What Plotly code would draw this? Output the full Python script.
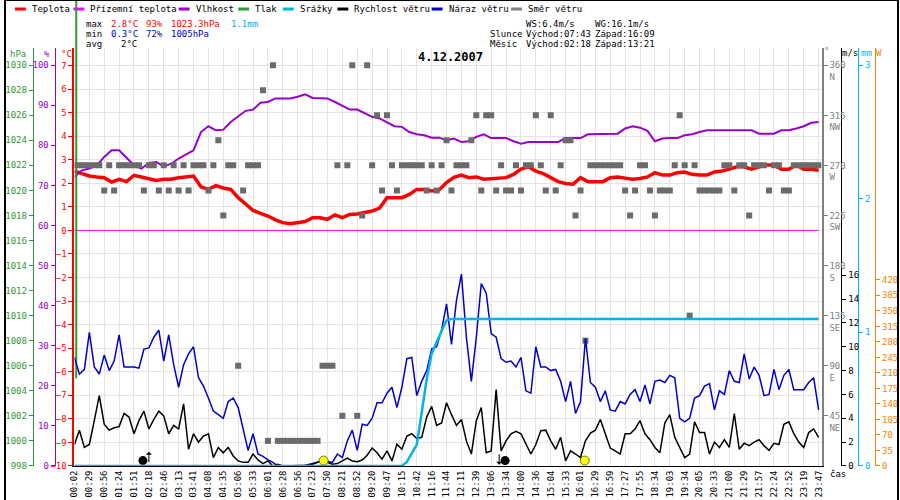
import numpy as np
import plotly.graph_objects as go

W, H = 900, 500
FIG_H = 506  # the page is photographed slightly taller than 500 and squeezed back
FONT = "DejaVu Sans Mono"

# time labels on the (index based) x axis
time_labels = ["00:02", "00:29", "00:56", "01:24", "01:51", "02:18", "02:46", "03:13", "03:41", "04:08",
               "04:35", "05:06", "05:33", "06:01", "06:28", "06:56", "07:23", "07:50", "08:21", "08:52",
               "09:20", "09:47", "10:15", "10:42", "11:16", "11:44", "12:11", "12:39", "13:06", "13:34",
               "14:00", "14:36", "15:04", "15:33", "16:01", "16:29", "16:59", "17:27", "17:55", "18:34",
               "19:03", "19:34", "20:05", "20:33", "21:00", "21:29", "21:57", "22:24", "22:52", "23:19",
               "23:47"]

# temperature (°C), half-label steps
temperature_c = [2.52, 2.4, 2.31, 2.27, 2.24, 2.05, 2.17, 2.07, 2.34, 2.27,
                 2.2, 2.12, 2.17, 2.17, 2.24, 2.28, 2.31, 1.85, 1.74, 1.9,
                 1.8, 1.74, 1.39, 1.12, 0.85, 0.72, 0.61, 0.45, 0.33, 0.28,
                 0.33, 0.38, 0.54, 0.54, 0.47, 0.66, 0.54, 0.68, 0.7, 0.75,
                 0.82, 0.95, 1.39, 1.39, 1.39, 1.53, 1.74, 1.74, 1.67, 1.72,
                 2.03, 2.25, 2.35, 2.24, 2.27, 2.17, 2.2, 2.2, 2.24, 2.38,
                 2.6, 2.7, 2.52, 2.41, 2.24, 2.07, 1.99, 1.96, 2.24, 2.07,
                 2.07, 2.07, 2.24, 2.27, 2.22, 2.17, 2.2, 2.27, 2.45, 2.35,
                 2.35, 2.45, 2.48, 2.38, 2.35, 2.35, 2.48, 2.52, 2.6, 2.7,
                 2.7, 2.6, 2.7, 2.78, 2.78, 2.6, 2.6, 2.78, 2.6, 2.6,
                 2.55]

# relative humidity (%), half-label steps
humidity_pct = [72.1, 73.75, 74.2, 75, 77.1, 78.75, 78.75, 77, 75, 74.2,
                75.6, 75.8, 74.75, 75.4, 76.7, 77.75, 78.75, 83.3, 84.75, 83.75,
                83.9, 85.8, 87.1, 88.6, 88.9, 90.6, 90.8, 91.7, 91.7, 91.7,
                92.1, 92.7, 91.8, 91.7, 91.7, 90.8, 89.8, 88.9, 88.9, 87.9,
                87.1, 86.7, 85.8, 84.75, 84.6, 83.3, 82.75, 82.5, 81.9, 81.9,
                81.25, 81.7, 80.8, 81, 82.1, 82.75, 81.8, 81.8, 81.8, 81,
                80.4, 80.8, 80.8, 80.8, 80.8, 80.8, 81.8, 81.8, 81.8, 82.75,
                82.75, 82.75, 82.75, 82.9, 84.2, 84.75, 84.4, 83.6, 81.0, 81.7,
                81.8, 81.8, 82.5, 82.75, 83.3, 83.75, 83.75, 83.75, 83.75, 83.75,
                83.75, 83.75, 82.9, 82.9, 82.9, 83.75, 83.75, 84.2, 84.75, 85.6,
                85.8]

# wind direction (degrees), third-label steps
wind_dir_deg = [270, 270, 270, 270, 270, 270, 247.5, 270, 247.5, 270,
                270, 270, 270, 270, 247.5, 270, 270, 247.5, 270, 247.5,
                270, 247.5, 270, 247.5, 270, 270, 270, 247.5, 270, 292.5,
                225, 270, 270, 90, 247.5, 270, 270, 270, 337.5, 22.5,
                360, 22.5, 22.5, 22.5, 22.5, 22.5, 22.5, 22.5, 22.5, 22.5,
                90, 90, 90, 270, 45, 270, 360, 45, 225, 360,
                270, 315, 247.5, 315, 270, 247.5, 270, 270, 270, 270,
                270, 247.5, 270, 247.5, 270, 292.5, 247.5, 270, 270, 270,
                292.5, 315, 247.5, 315, 315, 247.5, 270, 247.5, 247.5, 270,
                247.5, 270, 270, 315, 270, 247.5, 315, 247.5, 270, 292.5,
                292.5, 225, 247.5, 112.5, 270, 270, 270, 270, 270, 270,
                270, 247.5, 225, 247.5, 270, 270, 247.5, 225, 247.5, 247.5,
                247.5, 270, 315, 270, 135, 270, 247.5, 247.5, 247.5, 247.5,
                247.5, 270, 270, 247.5, 270, 270, 225, 270, 270, 270,
                247.5, 270, 270, 247.5, 247.5, 270, 270, 270, 270, 270,
                270]

# wind gust (m/s), third-label steps
wind_gust_ms = [9.1, 7.7, 8.1, 11.2, 8.3, 7.7, 9.3, 8.0, 8.8, 11.0,
                8.3, 8.3, 8.3, 8.2, 9.8, 9.9, 10.8, 11.4, 8.8, 11.0,
                8.5, 6.6, 8.5, 9.4, 10.0, 7.4, 6.7, 5.7, 4.6, 4.3,
                4.0, 5.4, 5.7, 4.9, 3.2, 1.3, 2.7, 1.0, 0.8, 0.5,
                0.3, 0.0, 0.0, 0.0, 0.0, 0.0, 0.0, 0.1, 0.2, 0.3,
                0.3, 0.4, 0.3, 1.0, 0.7, 2.1, 3.0, 1.3, 3.5, 3.4,
                4.0, 5.3, 5.3, 6.1, 6.6, 4.9, 6.6, 9.0, 9.1, 5.9,
                7.1, 8.0, 9.8, 10.0, 11.4, 13.6, 10.2, 13.9, 16.1, 10.8,
                7.1, 10.8, 15.3, 14.5, 11.1, 10.8, 9.0, 8.7, 8.8, 8.3,
                9.1, 6.3, 6.1, 10.0, 8.3, 8.3, 8.0, 8.1, 7.1, 5.4,
                7.1, 4.4, 5.4, 10.7, 7.0, 6.6, 5.4, 6.3, 4.7, 4.6,
                5.4, 5.2, 6.0, 6.4, 5.4, 6.8, 5.2, 7.1, 7.2, 7.0,
                7.6, 7.4, 4.0, 3.7, 4.0, 5.7, 5.9, 6.7, 6.9, 4.7,
                6.3, 6.0, 8.0, 7.1, 7.0, 9.4, 7.3, 8.3, 7.6, 5.9,
                6.0, 8.1, 6.4, 7.6, 8.1, 6.4, 6.4, 6.4, 7.0, 7.4,
                4.7]

# wind speed (m/s), third-label steps
wind_speed_ms = [1.8, 3.0, 1.55, 1.8, 3.8, 5.9, 3.5, 3.0, 3.2, 3.3,
                 4.4, 4.1, 2.7, 3.8, 4.6, 3.1, 3.9, 4.6, 4.2, 2.7,
                 3.4, 3.1, 5.2, 1.4, 2.7, 2.0, 2.5, 2.7, 0.7, 1.55,
                 1.1, 1.55, 0.84, 0.42, 0.3, 0.3, 1.0, 0.5, 0.2, 0.42,
                 0.0, 0.14, 0.0, 0.0, 0.0, 0.0, 0.0, 0.05, 0.14, 0.3,
                 0.48, 0.3, 0.14, 0.2, 0.42, 0.65, 0.42, 0.36, 0.5, 0.9,
                 1.5, 1.1, 0.56, 1.26, 0.42, 1.83, 1.4, 2.5, 2.7, 2.3,
                 2.4, 4.1, 5.0, 3.4, 3.6, 5.3, 4.3, 3.4, 3.9, 2.1,
                 1.0, 3.8, 4.9, 1.1, 1.26, 6.4, 1.26, 2.1, 2.7, 2.9,
                 2.7, 1.8, 1.0, 1.8, 2.95, 3.0, 2.1, 1.4, 2.4, 0.42,
                 1.26, 1.0, 0.7, 2.1, 2.75, 3.0, 3.9, 2.7, 1.5, 1.26,
                 1.0, 2.7, 2.7, 3.1, 3.8, 2.7, 2.2, 1.55, 1.1, 3.6,
                 4.3, 2.4, 1.55, 0.7, 1.0, 3.7, 2.8, 2.8, 1.0, 2.0,
                 1.55, 2.2, 1.55, 4.4, 1.4, 1.9, 1.7, 2.0, 2.2, 1.7,
                 1.3, 1.9, 1.8, 3.5, 3.7, 2.7, 2.0, 1.55, 2.8, 3.1,
                 2.4]

# cumulative rain (mm), third-label steps
rain_mm = [0.0, 0.0, 0.0, 0.0, 0.0, 0.0, 0.0, 0.0, 0.0, 0.0,
           0.0, 0.0, 0.0, 0.0, 0.0, 0.0, 0.0, 0.0, 0.0, 0.0,
           0.0, 0.0, 0.0, 0.0, 0.0, 0.0, 0.0, 0.0, 0.0, 0.0,
           0.0, 0.0, 0.0, 0.0, 0.0, 0.0, 0.0, 0.0, 0.0, 0.0,
           0.0, 0.0, 0.0, 0.0, 0.0, 0.0, 0.0, 0.0, 0.0, 0.0,
           0.0, 0.0, 0.0, 0.0, 0.0, 0.0, 0.0, 0.0, 0.0, 0.0,
           0.0, 0.0, 0.0, 0.0, 0.0, 0.0, 0.0, 0.03, 0.1, 0.16,
           0.4, 0.65, 0.84, 0.93, 1.01, 1.09, 1.1, 1.1, 1.1, 1.1,
           1.1, 1.1, 1.1, 1.1, 1.1, 1.1, 1.1, 1.1, 1.1, 1.1,
           1.1, 1.1, 1.1, 1.1, 1.1, 1.1, 1.1, 1.1, 1.1, 1.1,
           1.1, 1.1, 1.1, 1.1, 1.1, 1.1, 1.1, 1.1, 1.1, 1.1,
           1.1, 1.1, 1.1, 1.1, 1.1, 1.1, 1.1, 1.1, 1.1, 1.1,
           1.1, 1.1, 1.1, 1.1, 1.1, 1.1, 1.1, 1.1, 1.1, 1.1,
           1.1, 1.1, 1.1, 1.1, 1.1, 1.1, 1.1, 1.1, 1.1, 1.1,
           1.1, 1.1, 1.1, 1.1, 1.1, 1.1, 1.1, 1.1, 1.1, 1.1,
           1.1]

ground_temp_c = [0.0, 0.0]
pressure_x = [0.12, 0.12]
pressure_hpa = [1005.0, 1040.0]

sun_times = ["07:43", "16:09"]
moon_rise, moon_set = "02:18", "13:21"

stats_max = ["2.8°C", "93%", "1023.3hPa"]
stats_min = ["0.3°C", "72%", "1005hPa"]

RED, MAGENTA, PURPLE, GREEN = "#ff0000", "#ff00ff", "#9900cc", "#339933"
CYAN, BLUE, GRAY, ORANGE = "#00b4f0", "#0000cc", "#6b6b6b", "#ff8000"
GRID = "#e8e3e3"


def to_minutes(t):
    h, m = t.split(":")
    return int(h) * 60 + int(m)


label_minutes = [to_minutes(t) for t in time_labels]


def time_to_x(t):
    return float(np.interp(to_minutes(t), label_minutes, np.arange(len(time_labels))))


n_last = len(time_labels) - 1
x_half = np.linspace(0, n_last, len(temperature_c))
x_third = np.linspace(0, n_last, len(wind_gust_ms))

fig = go.Figure()

fig.add_trace(go.Scatter(x=x_third, y=wind_dir_deg, yaxis="y4", mode="markers", name="Směr větru",
                         marker=dict(symbol="square", size=6, color=GRAY)))
fig.add_trace(go.Scatter(x=[0, n_last], y=ground_temp_c, mode="lines", name="Přízemní teplota",
                         line=dict(color=MAGENTA, width=1)))
fig.add_trace(go.Scatter(x=pressure_x, y=pressure_hpa, yaxis="y3", mode="lines", name="Tlak",
                         line=dict(color=GREEN, width=2)))
fig.add_trace(go.Scatter(x=x_half, y=humidity_pct, yaxis="y2", mode="lines", name="Vlhkost",
                         line=dict(color=PURPLE, width=2)))
fig.add_trace(go.Scatter(x=x_third, y=rain_mm, yaxis="y6", mode="lines", name="Srážky",
                         line=dict(color=CYAN, width=2.5)))
fig.add_trace(go.Scatter(x=x_third, y=wind_gust_ms, yaxis="y5", mode="lines", name="Náraz větru",
                         line=dict(color=BLUE, width=1.5)))
fig.add_trace(go.Scatter(x=x_third, y=wind_speed_ms, yaxis="y5", mode="lines", name="Rychlost větru",
                         line=dict(color="black", width=1.5)))
fig.add_trace(go.Scatter(x=x_half, y=temperature_c, mode="lines", name="Teplota",
                         line=dict(color=RED, width=3.5)))
# radiation axis has no data on this day
fig.add_trace(go.Scatter(x=[None], y=[None], yaxis="y7", mode="lines", showlegend=False))

# sun and moon events at the bottom
fig.add_trace(go.Scatter(x=[time_to_x(t) for t in sun_times], y=[0.45, 0.45], yaxis="y5",
                         mode="markers", cliponaxis=False, name="Slunce",
                         marker=dict(size=9, color="#ffff00", line=dict(color="#777700", width=1))))
fig.add_trace(go.Scatter(x=[time_to_x(moon_rise) - 0.4, time_to_x(moon_set) + 0.4], y=[0.45, 0.45],
                         yaxis="y5", mode="markers", cliponaxis=False, name="Měsíc",
                         marker=dict(size=9, color="black")))


def axis_common(color):
    return dict(showgrid=False, zeroline=False, showline=True, linecolor=color,
                linewidth=1, ticks="outside", ticklen=4, tickcolor=color,
                tickfont=dict(family=FONT, size=9, color=color), fixedrange=True)


dom_y = [35 / H, 452 / H]

fig.update_layout(
    width=W, height=FIG_H,
    margin=dict(l=0, r=0, t=0, b=0),
    paper_bgcolor="white", plot_bgcolor="white",
    showlegend=False,
    font=dict(family=FONT, size=9, color="black"),
    xaxis=dict(domain=[70 / W, 823 / W], range=[0, 50.2], tickmode="array",
               tickvals=list(range(len(time_labels))), ticktext=time_labels, tickangle=-90,
               tickfont=dict(family=FONT, size=9, color="black"),
               showgrid=True, gridcolor=GRID, gridwidth=1, zeroline=False,
               showline=True, linecolor="black", linewidth=1, ticks=""),
    yaxis={**axis_common(RED), "domain": dom_y, "range": [-10, 7.74], "tickmode": "array",
           "tickvals": list(range(-10, 8)), "showgrid": True, "gridcolor": GRID, "linewidth": 2},
    yaxis2={**axis_common(PURPLE), "range": [0, 104.25], "tickmode": "array",
            "tickvals": list(range(0, 101, 10)), "overlaying": "y", "anchor": "free",
            "position": 50 / W, "side": "left"},
    yaxis3={**axis_common(GREEN), "range": [998, 1031.36], "tickmode": "array",
            "tickvals": list(range(998, 1031, 2)), "overlaying": "y", "anchor": "free",
            "position": 28 / W, "side": "left"},
    yaxis4={**axis_common("#808080"), "range": [0, 375.3], "tickmode": "array",
            "tickvals": [45, 90, 135, 180, 225, 270, 315, 360],
            "ticktext": ["45<br>NE", "90<br>E", "135<br>SE", "180<br>S", "225<br>SW",
                         "270<br>W", "315<br>NW", "360<br>N"],
            "ticklabelshift": 6, "overlaying": "y", "anchor": "x", "side": "right", "linewidth": 2},
    yaxis5={**axis_common("black"), "range": [0, 35.06], "tickmode": "array",
            "tickvals": list(range(0, 17, 2)), "overlaying": "y", "anchor": "free",
            "position": 843 / W, "side": "right"},
    yaxis6={**axis_common(CYAN), "range": [0, 3.1275], "tickmode": "array",
            "tickvals": [0, 1, 2, 3], "overlaying": "y", "anchor": "free",
            "position": 860 / W, "side": "right"},
    yaxis7={**axis_common(ORANGE), "range": [0, 943], "tickmode": "array",
            "tickvals": list(range(0, 421, 35)), "overlaying": "y", "anchor": "free",
            "position": 877 / W, "side": "right"},
)

annotations = []
shapes = []


def text_at(px, py, txt, color="black", size=9, anchor="left"):
    annotations.append(dict(x=px / W, y=1 - py / H, xref="paper", yref="paper", text=txt,
                            showarrow=False, xanchor=anchor, yanchor="middle",
                            font=dict(family=FONT, size=size, color=color)))


# legend row
legend_items = [("Teplota", RED, 25), ("Přízemní teplota", MAGENTA, 84), ("Vlhkost", PURPLE, 190),
                ("Tlak", GREEN, 250), ("Srážky", CYAN, 295), ("Rychlost větru", "black", 350),
                ("Náraz větru", BLUE, 445), ("Směr větru", "#808080", 525)]
for label, color, tx in legend_items:
    shapes.append(dict(type="line", xref="paper", yref="paper", x0=(tx - 15) / W, x1=(tx - 4) / W,
                       y0=1 - 9 / H, y1=1 - 9 / H, line=dict(color=color, width=3)))
    text_at(tx, 9, label)

# statistics block
text_at(80, 24, "max")
text_at(80, 34, "min")
text_at(80, 44, "avg")
for txt, px in zip(stats_max, [105, 140, 165]):
    text_at(px, 24, txt, RED)
for txt, px in zip(stats_min, [105, 140, 165]):
    text_at(px, 34, txt, BLUE)
text_at(226, 24, "1.1mm", CYAN)
text_at(115, 44, "2°C")

text_at(523, 24, "WS:6.4m/s")
text_at(593, 24, "WG:16.1m/s")
text_at(487, 34, "Slunce")
text_at(523, 34, "Východ:07:43")
text_at(593, 34, "Západ:16:09")
text_at(487, 44, "Měsíc")
text_at(523, 44, "Východ:02:18")
text_at(593, 44, "Západ:13:21")

# title
annotations.append(dict(x=449 / W, y=1 - 57 / H, xref="paper", yref="paper", text="<b>4.12.2007</b>",
                        showarrow=False, xanchor="center", yanchor="middle",
                        font=dict(family=FONT, size=12, color="black")))

# axis titles
text_at(13, 54, "hPa", GREEN, anchor="center")
text_at(42, 54, "%", PURPLE, anchor="center")
text_at(62, 54, "°C", RED, anchor="center")
text_at(828, 51, "°", "#808080", anchor="center")
text_at(852, 53, "m/s", "black", anchor="center")
text_at(868, 53, "mm", CYAN, anchor="center")
text_at(881, 53, "W", ORANGE, anchor="center")
text_at(840, 473, "čas", "black", anchor="center")

# moon rise / set arrows
annotations.append(dict(x=time_to_x(moon_rise), y=1.2, xref="x", yref="y5", text="", showarrow=True,
                        arrowhead=1, arrowsize=1, arrowwidth=1, arrowcolor="black", ax=0, ay=12))
annotations.append(dict(x=time_to_x(moon_set), y=0.1, xref="x", yref="y5", text="", showarrow=True,
                        arrowhead=1, arrowsize=1, arrowwidth=1, arrowcolor="black", ax=0, ay=-12))

# pressure trace continues above the plot area
shapes.append(dict(type="line", xref="x", yref="paper", x0=pressure_x[0], x1=pressure_x[0],
                   y0=dom_y[1], y1=1, line=dict(color=GREEN, width=2)))
# outer frame
shapes.append(dict(type="rect", xref="paper", yref="paper", x0=0, x1=1, y0=0, y1=1,
                   line=dict(color="black", width=2)))

fig.update_layout(annotations=annotations, shapes=shapes)

# keep the figure flush with the page corner so nothing shifts
page_fix = ("document.documentElement.style.margin='0';document.body.style.margin='0';"
            "document.documentElement.style.overflow='hidden';document.body.style.overflow='hidden';")
fig.write_html("out.html", config={"displayModeBar": False}, post_script=page_fix)
